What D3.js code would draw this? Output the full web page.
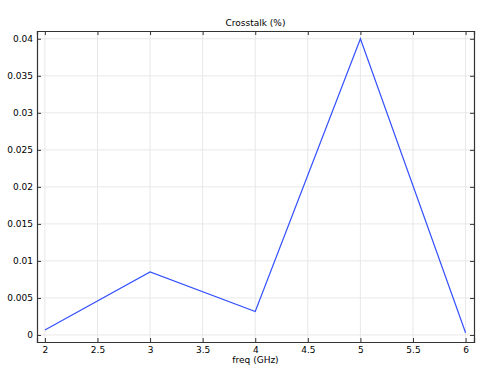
<!DOCTYPE html>
<html>
<head>
<meta charset="utf-8">
<script src="https://cdn.jsdelivr.net/npm/d3@7"></script>
<style>
  html, body { margin: 0; padding: 0; background: #fff; }
  svg text { font-family: "DejaVu Sans", sans-serif; fill: #000; }
</style>
</head>
<body>
<div id="chart"></div>
<script>
// Data
const freq = [2, 3, 4, 5, 6];
const crosstalk = [0.00068, 0.0085, 0.00316, 0.04, 0.0003];
const xTicks = [2, 2.5, 3, 3.5, 4, 4.5, 5, 5.5, 6];
const yTicks = [0, 0.005, 0.01, 0.015, 0.02, 0.025, 0.03, 0.035, 0.04];

const W = 479, H = 366;
const margin = { top: 31, right: 5, bottom: 24, left: 37 },
    width = W - margin.left - margin.right,
    height = H - margin.top - margin.bottom;

const svg = d3.select("#chart")
    .append("svg")
    .attr("width", W)
    .attr("height", H);

const g = svg.append("g")
    .attr("transform", `translate(${margin.left},${margin.top})`);

// Scales
const x = d3.scaleLinear()
    .domain([1.925, 6.08])
    .range([0, width]);
const y = d3.scaleLinear()
    .domain([-0.00095, 0.04105])
    .range([height, 0]);

// Grid
g.append("g").selectAll("line")
    .data(xTicks)
    .enter().append("line")
    .attr("x1", d => x(d)).attr("x2", d => x(d))
    .attr("y1", 0).attr("y2", height)
    .attr("stroke", "#e8e8e8");
g.append("g").selectAll("line")
    .data(yTicks)
    .enter().append("line")
    .attr("y1", d => y(d)).attr("y2", d => y(d))
    .attr("x1", 0).attr("x2", width)
    .attr("stroke", "#e8e8e8");

// Line
const line = d3.line()
    .x((d, i) => x(freq[i]))
    .y(d => y(d));
g.append("path")
    .datum(crosstalk)
    .attr("fill", "none")
    .attr("stroke", "#3451ff")
    .attr("stroke-width", 1.2)
    .attr("d", line);

// Axes (ticks inward)
const fmt = d => String(d);
const axB = g.append("g")
    .attr("transform", `translate(0,${height})`)
    .call(d3.axisBottom(x).tickValues(xTicks).tickSize(-4).tickPadding(5).tickFormat(fmt));
const axL = g.append("g")
    .call(d3.axisLeft(y).tickValues(yTicks).tickSize(-4).tickPadding(4).tickFormat(fmt));
const axT = g.append("g")
    .call(d3.axisTop(x).tickValues(xTicks).tickSize(-4).tickFormat(""));
const axR = g.append("g")
    .attr("transform", `translate(${width},0)`)
    .call(d3.axisRight(y).tickValues(yTicks).tickSize(-4).tickFormat(""));

[axB, axL, axT, axR].forEach(a => {
    a.select(".domain").attr("stroke", "#333").attr("stroke-width", 1.2);
    a.selectAll(".tick line").attr("stroke", "#333");
    a.selectAll("text").style("font-size", "9px").attr("fill", "#000");
});

// Title and axis label
svg.append("text")
    .attr("x", margin.left + width / 2)
    .attr("y", 26)
    .attr("text-anchor", "middle")
    .style("font-size", "9px")
    .text("Crosstalk (%)");

svg.append("text")
    .attr("x", margin.left + width / 2)
    .attr("y", 363)
    .attr("text-anchor", "middle")
    .style("font-size", "9px")
    .text("freq (GHz)");
</script>
</body>
</html>
